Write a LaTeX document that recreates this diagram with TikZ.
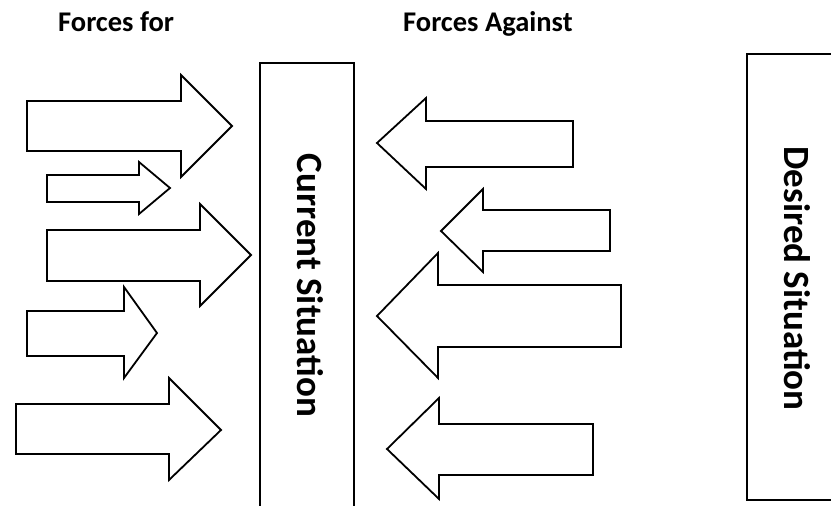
\documentclass[tikz,border=0pt]{standalone}
\usepackage{fontspec}
\setmainfont{Carlito}
\begin{document}
\begin{tikzpicture}[x=1pt,y=-1pt,
  force/.style={draw=black,line width=1.8pt,line join=miter,fill=white},
  frame/.style={draw=black,line width=1.9pt},
  title/.style={font=\fontsize{28.5}{32}\selectfont\bfseries,inner sep=0pt,anchor=base west},
  situation/.style={font=\fontsize{37}{40}\selectfont\bfseries,inner sep=0pt,rotate=-90}]
\useasboundingbox (0,0) rectangle (831,506);
\clip (0,0) rectangle (831,506);
% titles
\node[title] (tfor) at (58,31.7) {Forces for};
\node[title] (tagainst) at (403,31.7) {Forces Against};
% boxes
\draw[frame] (260,515) -- (260,63) -- (354,63) -- (354,515);
\draw[frame] (845,54) -- (747,54) -- (747,500) -- (845,500);
\node[situation] (cur) at (310,285.5) {Current Situation};
\node[situation] (des) at (797,278.5) {Desired Situation};
% forces for (pointing right)
\draw[force] (27,101) -- (181,101) -- (181,75) -- (232,126) -- (181,177) -- (181,151) -- (27,151) -- cycle;
\draw[force] (47,175) -- (139,175) -- (139,162) -- (170,188) -- (139,214) -- (139,202) -- (47,202) -- cycle;
\draw[force] (47,230) -- (200,230) -- (200,204) -- (251,255) -- (200,306) -- (200,281) -- (47,281) -- cycle;
\draw[force] (27,311) -- (124,311) -- (124,287) -- (157,333) -- (124,378) -- (124,356) -- (27,356) -- cycle;
\draw[force] (16,404) -- (169,404) -- (169,378) -- (221,430) -- (169,480) -- (169,454) -- (16,454) -- cycle;
% forces against (pointing left)
\draw[force] (573,121) -- (426,121) -- (426,98) -- (377,143) -- (426,189) -- (426,167) -- (573,167) -- cycle;
\draw[force] (610,210) -- (483,210) -- (483,189) -- (441,231) -- (483,272) -- (483,251) -- (610,251) -- cycle;
\draw[force] (621,285) -- (438,285) -- (438,253) -- (377,316) -- (438,378) -- (438,347) -- (621,347) -- cycle;
\draw[force] (593,424) -- (439,424) -- (439,398) -- (387,449) -- (439,499) -- (439,475) -- (593,475) -- cycle;
\end{tikzpicture}
\end{document}
